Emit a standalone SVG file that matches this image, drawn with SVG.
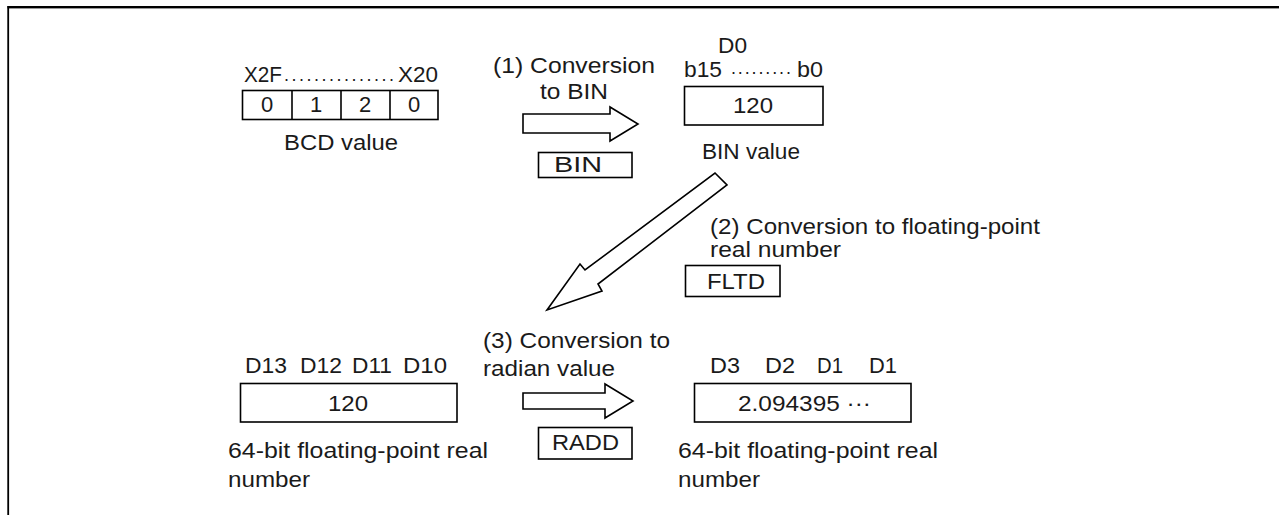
<svg xmlns="http://www.w3.org/2000/svg" width="1279" height="515" viewBox="0 0 1279 515">
<style>
text{font-family:"Liberation Sans",Arial,sans-serif;font-size:22px;fill:#1a1a1a}
.box{fill:#fff;stroke:#000;stroke-width:1.6}
.arr{fill:#fff;stroke:#000;stroke-width:1.6;stroke-linejoin:miter}
.c{text-anchor:middle}
.dots{font-size:18px}
</style>
<rect x="0" y="0" width="1279" height="515" fill="#fff"/>
<g id="frame">
<rect x="7.5" y="6" width="1272" height="2.4" fill="#000"/>
<rect x="7.3" y="6" width="1.8" height="509" fill="#000"/>
</g>
<g id="bcd">
<text x="244" y="82" textLength="38" lengthAdjust="spacingAndGlyphs">X2F</text>
<text class="dots" x="284" y="81" textLength="110" lengthAdjust="spacing">...............</text>
<text x="398" y="82" textLength="40" lengthAdjust="spacingAndGlyphs">X20</text>
<rect class="box" x="242.5" y="90.5" width="195.5" height="29"/>
<line x1="292" y1="90.5" x2="292" y2="119.5" stroke="#000" stroke-width="1.6"/>
<line x1="341" y1="90.5" x2="341" y2="119.5" stroke="#000" stroke-width="1.6"/>
<line x1="390" y1="90.5" x2="390" y2="119.5" stroke="#000" stroke-width="1.6"/>
<text class="c" x="267" y="112">0</text>
<text class="c" x="316" y="112">1</text>
<text class="c" x="365" y="112">2</text>
<text class="c" x="414" y="112">0</text>
<text x="284" y="150" textLength="114" lengthAdjust="spacingAndGlyphs">BCD value</text>
</g>
<g id="step1">
<text x="493" y="73" textLength="162" lengthAdjust="spacingAndGlyphs">(1) Conversion</text>
<text x="540" y="99" textLength="68" lengthAdjust="spacingAndGlyphs">to BIN</text>
<rect class="box" x="538.5" y="152.5" width="93.5" height="25"/>
<text x="554" y="172" textLength="48" lengthAdjust="spacingAndGlyphs">BIN</text>
</g>
<g id="d0">
<text x="718" y="53" textLength="29" lengthAdjust="spacingAndGlyphs">D0</text>
<text x="684" y="77" textLength="38" lengthAdjust="spacingAndGlyphs">b15</text>
<text class="dots" x="731" y="74" textLength="60" lengthAdjust="spacing">.........</text>
<text x="797" y="77" textLength="26" lengthAdjust="spacingAndGlyphs">b0</text>
<rect class="box" x="684.5" y="86.5" width="138.5" height="38.5"/>
<text x="733" y="113" textLength="40" lengthAdjust="spacingAndGlyphs">120</text>
<text x="702" y="159" textLength="98" lengthAdjust="spacingAndGlyphs">BIN value</text>
</g>
<g id="step2">
<text x="710" y="234" textLength="330" lengthAdjust="spacingAndGlyphs">(2) Conversion to floating-point</text>
<text x="710" y="257" textLength="131" lengthAdjust="spacingAndGlyphs">real number</text>
<rect class="box" x="685.5" y="265.5" width="94.5" height="31"/>
<text x="707" y="289" textLength="58" lengthAdjust="spacingAndGlyphs">FLTD</text>
</g>
<g id="d10">
<text x="245" y="373" textLength="42" lengthAdjust="spacingAndGlyphs">D13</text>
<text x="300" y="373" textLength="42" lengthAdjust="spacingAndGlyphs">D12</text>
<text x="352" y="373" textLength="40" lengthAdjust="spacingAndGlyphs">D11</text>
<text x="403" y="373" textLength="44" lengthAdjust="spacingAndGlyphs">D10</text>
<rect class="box" x="240.5" y="383.5" width="216.5" height="38.5"/>
<text x="328" y="411" textLength="40" lengthAdjust="spacingAndGlyphs">120</text>
<text x="228" y="458" textLength="260" lengthAdjust="spacingAndGlyphs">64-bit floating-point real</text>
<text x="228" y="487" textLength="82" lengthAdjust="spacingAndGlyphs">number</text>
</g>
<g id="step3">
<text x="483" y="348" textLength="187" lengthAdjust="spacingAndGlyphs">(3) Conversion to</text>
<text x="483" y="376" textLength="132" lengthAdjust="spacingAndGlyphs">radian value</text>
<rect class="box" x="538.5" y="427.5" width="93.5" height="31.5"/>
<text x="552" y="450" textLength="67" lengthAdjust="spacingAndGlyphs">RADD</text>
</g>
<g id="d0result">
<text x="710" y="373" textLength="30" lengthAdjust="spacingAndGlyphs">D3</text>
<text x="765" y="373" textLength="30" lengthAdjust="spacingAndGlyphs">D2</text>
<text x="817" y="373" textLength="26" lengthAdjust="spacingAndGlyphs">D1</text>
<text x="869" y="373" textLength="28" lengthAdjust="spacingAndGlyphs">D1</text>
<rect class="box" x="694.5" y="383.5" width="216.5" height="38.5"/>
<text x="738" y="411" textLength="133" lengthAdjust="spacingAndGlyphs">2.094395 ···</text>
<text x="678" y="458" textLength="260" lengthAdjust="spacingAndGlyphs">64-bit floating-point real</text>
<text x="678" y="487" textLength="82" lengthAdjust="spacingAndGlyphs">number</text>
</g>
<g id="connectors">
<polygon class="arr" points="523,114 610,114 610,107 638,124 610,141 610,133 523,133"/>
<polygon class="arr" points="715,173 727,185 598,284 602,291 547,310 580,264 585,270"/>
<polygon class="arr" points="523,393 605,393 605,384 633,401 605,418 605,409 523,409"/>
</g>
</svg>
